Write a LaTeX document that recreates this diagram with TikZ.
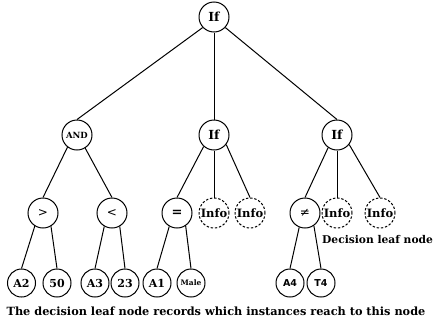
\documentclass[tikz,border=0pt]{standalone}
\usepackage{fontspec}
\setmainfont{DejaVu Serif}
\newfontfamily\labelsans{DejaVu Sans}
\begin{document}
\begin{tikzpicture}[x=1pt,y=-1pt,
  treenode/.style={circle, draw, line width=1pt, minimum size=30pt, inner sep=0pt,
    font=\bfseries\fontsize{11}{12}\selectfont},
  leafnode/.style={treenode, minimum size=28pt},
  infonode/.style={treenode, dash pattern=on 2.4pt off 1.8pt,
    font=\bfseries\fontsize{11.5}{12}\selectfont},
  link/.style={line width=1pt}]
\useasboundingbox (0,0) rectangle (433,327);

% root and second level
\node[treenode, font=\bfseries\fontsize{12.5}{13}\selectfont] (root) at (214,17) {If};
\node[treenode, font=\bfseries\fontsize{8.5}{9}\selectfont] (and) at (77,135) {AND};
\node[treenode, font=\bfseries\fontsize{12.5}{13}\selectfont] (ifm) at (214,135) {If};
\node[treenode, font=\bfseries\fontsize{12.5}{13}\selectfont] (ifr) at (337,135) {If};

% third level
\node[treenode, font=\labelsans\fontsize{12}{12}\selectfont] (gt) at (43,213) {>};
\node[treenode, font=\labelsans\fontsize{12}{12}\selectfont] (lt) at (112,213) {<};
\node[treenode, font=\bfseries\fontsize{13}{13}\selectfont] (eq) at (177,213) {=};
\node[infonode] (infoa) at (214,213) {Info};
\node[infonode] (infob) at (250,213) {Info};
\node[treenode, font=\labelsans\fontsize{12}{12}\selectfont] (ne) at (305,213) {≠};
\node[infonode] (infoc) at (337,213) {Info};
\node[infonode] (infod) at (380,213) {Info};

% leaves
\node[leafnode] (a2) at (21.5,283) {A2};
\node[leafnode] (n50) at (57,283) {50};
\node[leafnode] (a3) at (95,283) {A3};
\node[leafnode] (n23) at (125,283) {23};
\node[leafnode] (a1) at (157,283) {A1};
\node[leafnode, font=\bfseries\fontsize{7.5}{8}\selectfont] (male) at (191,283) {Male};
\node[leafnode, font=\labelsans\bfseries\fontsize{9.5}{10}\selectfont] (a4) at (290,283) {A4};
\node[leafnode, font=\labelsans\bfseries\fontsize{9.5}{10}\selectfont] (t4) at (321,283) {T4};

% labels
\node[anchor=west, inner sep=0pt, font=\bfseries\fontsize{10.7}{12}\selectfont] (leaflabel) at (322,240) {Decision leaf node};
\node[inner sep=0pt, font=\bfseries\fontsize{11.3}{13}\selectfont] (caption) at (216,311)
  {The decision leaf node records which instances reach to this node};

% connectors
\draw[link] (root.-137) -- (and.north);
\draw[link] (root.south) -- (ifm.north);
\draw[link] (root.-43) -- (ifr.north);

\draw[link] (and.-128) -- (gt.north);
\draw[link] (and.-58) -- (lt.north);
\draw[link] (ifm.-132) -- (eq.north);
\draw[link] (ifm.south) -- (infoa.north);
\draw[link] (ifm.-38) -- (infob.north);
\draw[link] (ifr.-125) -- (ne.north);
\draw[link] (ifr.south) -- (infoc.north);
\draw[link] (ifr.-38) -- (infod.north);

\draw[link] (gt.-122) -- (a2.north);
\draw[link] (gt.-59) -- (n50.north);
\draw[link] (lt.-120) -- (a3.north);
\draw[link] (lt.-60) -- (n23.north);
\draw[link] (eq.-120) -- (a1.north);
\draw[link] (eq.-56) -- (male.north);
\draw[link] (ne.-112) -- (a4.north);
\draw[link] (ne.-55) -- (t4.north);
\end{tikzpicture}
\end{document}
